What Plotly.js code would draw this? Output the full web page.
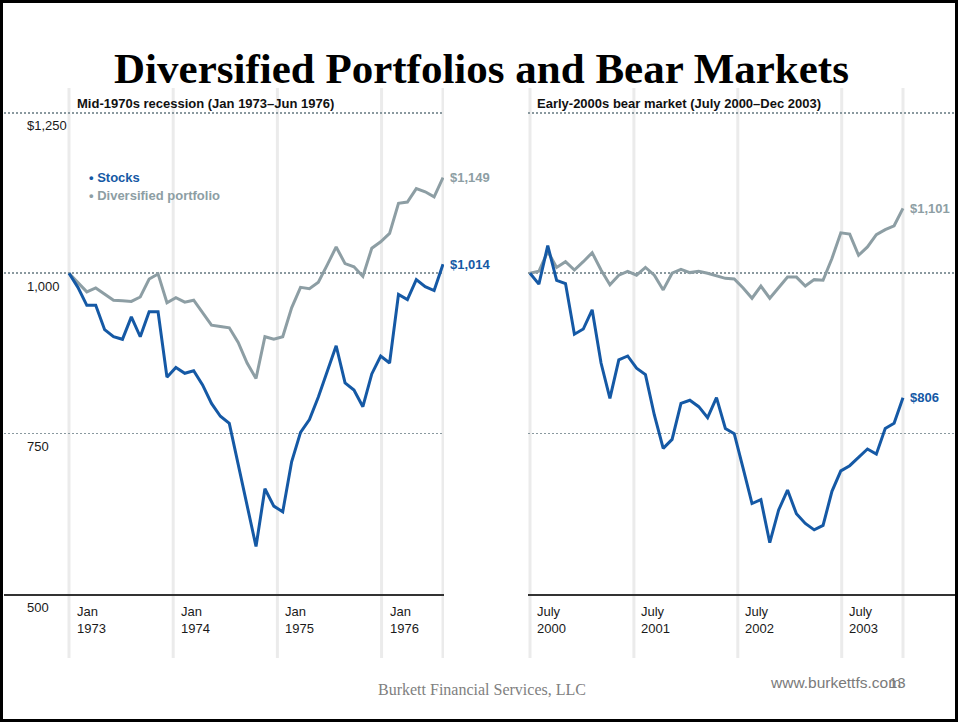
<!DOCTYPE html>
<html>
<head>
<meta charset="utf-8">
<script src="https://cdn.plot.ly/plotly-3.0.1.min.js"></script>
<style>
  html, body { margin: 0; padding: 0; background: #fff; }
  #chart { width: 958px; height: 722px; }
</style>
</head>
<body>
<div id="chart"></div>
<script>
// ---------- Data (monthly index, $1,000 starting value) ----------
const months = Array.from({length: 43}, (_, i) => i);

const stocks1970s = [1000, 978, 950, 950, 912, 901, 897, 932, 901, 940, 940, 838, 853, 844, 848,
  826, 797, 777, 766, 701, 638, 574, 664, 637, 628, 706, 752, 772, 807, 847, 887, 829, 818,
  792, 843, 871, 860, 967, 959, 990, 979, 973, 1014];
const diversified1970s = [1000, 985, 971, 977, 968, 958, 957, 956, 963, 991, 999, 954, 962, 955, 958,
  938, 919, 917, 915, 892, 860, 836, 901, 897, 901, 946, 978, 976, 986, 1013, 1041, 1015, 1010,
  995, 1039, 1049, 1062, 1109, 1111, 1132, 1127, 1119, 1149];

const stocks2000s = [1000, 983, 1043, 989, 984, 905, 913, 943, 860, 805, 865, 871, 852, 842, 779,
  727, 741, 797, 802, 792, 775, 806, 758, 750, 696, 641, 647, 580, 631, 662, 625, 610, 600,
  607, 660, 692, 700, 713, 726, 718, 758, 766, 806];
const diversified2000s = [1000, 1003, 1034, 1009, 1018, 1005, 1018, 1032, 1005, 982, 997, 1003, 997,
  1009, 997, 974, 1000, 1006, 1001, 1003, 1000, 996, 992, 991, 977, 961, 980, 961, 977, 994,
  994, 980, 990, 989, 1023, 1063, 1061, 1028, 1041, 1060, 1068, 1074, 1101];

const tickPositions = [0, 11.7, 23.4, 35.1];
const endPosition = 42;
const ticks1970s = ["Jan<br>1973", "Jan<br>1974", "Jan<br>1975", "Jan<br>1976"];
const ticks2000s = ["July<br>2000", "July<br>2001", "July<br>2002", "July<br>2003"];

const yTickVals = [1250, 1000, 750, 500];
const yTickText = ["$1,250", "1,000", "750", "500"];

const endLabels1970s = ["$1,149", "$1,014"];
const endLabels2000s = ["$1,101", "$806"];

const title = "Diversified Portfolios and Bear Markets";
const subtitle1970s = "Mid-1970s recession (Jan 1973\u2013Jun 1976)";
const subtitle2000s = "Early-2000s bear market (July 2000\u2013Dec 2003)";
const legendNames = ["Stocks", "Diversified portfolio"];

// ---------- Styling ----------
const W = 958, H = 722;
const BLUE = "#1559a5";
const GRAY = "#8d9ea4";
const SANS = "Liberation Sans, Arial, sans-serif";
const SERIF = "Liberation Serif, Times New Roman, serif";
const px = v => v / W;          // x pixel -> paper
const py = v => (H - v) / H;    // y pixel -> paper

const lineStyle = (c) => ({color: c, width: 3, shape: "linear"});

const traces = [
  {x: months, y: diversified1970s, xaxis: "x", yaxis: "y", mode: "lines", line: lineStyle(GRAY), name: legendNames[1], hoverinfo: "skip"},
  {x: months, y: stocks1970s, xaxis: "x", yaxis: "y", mode: "lines", line: lineStyle(BLUE), name: legendNames[0], hoverinfo: "skip"},
  {x: months, y: diversified2000s, xaxis: "x2", yaxis: "y2", mode: "lines", line: lineStyle(GRAY), name: legendNames[1], hoverinfo: "skip"},
  {x: months, y: stocks2000s, xaxis: "x2", yaxis: "y2", mode: "lines", line: lineStyle(BLUE), name: legendNames[0], hoverinfo: "skip"}
];

const yDomain = [py(594), py(109)];
const yAxisBase = {
  range: [500, 1256], domain: yDomain,
  tickvals: [750, 1000, 1250], showticklabels: false,
  showgrid: true, gridcolor: "#8a999f", gridwidth: 1.6, griddash: "2px,2px",
  zeroline: false, showline: false, fixedrange: true
};
const xAxisBase = {
  showgrid: false, zeroline: false, showticklabels: false, ticks: "",
  showline: true, linecolor: "#333333", linewidth: 1.5, fixedrange: true
};

const shapes = [];
[["x", tickPositions.concat([endPosition])], ["x2", tickPositions.concat([endPosition])]].forEach(([ax, pos]) => {
  pos.forEach(p => shapes.push({
    type: "line", xref: ax, yref: "paper", x0: p, x1: p, y0: py(658), y1: py(88),
    line: {color: "#ebebeb", width: 3}, layer: "below"
  }));
});
// outer frame
shapes.push({type: "rect", xref: "paper", yref: "paper", x0: 0, x1: 1, y0: 0, y1: 1,
  line: {color: "#000", width: 6}, fillcolor: "rgba(0,0,0,0)", layer: "above"});

const annotations = [];
// y tick labels
yTickVals.forEach((v, i) => annotations.push({
  xref: "paper", yref: "y", x: px(25), y: v, xanchor: "left", yanchor: "middle", yshift: -13,
  text: yTickText[i], showarrow: false, font: {family: SANS, size: 13, color: "#1a1a1a"}
}));
// x tick labels
tickPositions.forEach((p, i) => {
  annotations.push({xref: "x", yref: "paper", x: p, y: py(620), xanchor: "left", yanchor: "middle", xshift: 6,
    align: "left", text: ticks1970s[i], showarrow: false, font: {family: SANS, size: 13, color: "#1a1a1a"}});
  annotations.push({xref: "x2", yref: "paper", x: p, y: py(620), xanchor: "left", yanchor: "middle", xshift: 5,
    align: "left", text: ticks2000s[i], showarrow: false, font: {family: SANS, size: 13, color: "#1a1a1a"}});
});
// subtitles
annotations.push({xref: "paper", yref: "paper", x: px(75), y: py(104), xanchor: "left", yanchor: "middle",
  text: "<b>" + subtitle1970s + "</b>", showarrow: false, font: {family: SANS, size: 13, color: "#111"}});
annotations.push({xref: "paper", yref: "paper", x: px(535), y: py(104), xanchor: "left", yanchor: "middle",
  text: "<b>" + subtitle2000s + "</b>", showarrow: false, font: {family: SANS, size: 13, color: "#111"}});
// legend
annotations.push({xref: "paper", yref: "paper", x: px(87), y: py(178), xanchor: "left", yanchor: "middle",
  text: "<b>\u2022 " + legendNames[0] + "</b>", showarrow: false, font: {family: SANS, size: 13, color: BLUE}});
annotations.push({xref: "paper", yref: "paper", x: px(87), y: py(196), xanchor: "left", yanchor: "middle",
  text: "<b>\u2022 " + legendNames[1] + "</b>", showarrow: false, font: {family: SANS, size: 13, color: GRAY}});
// end labels
const last = endPosition;
annotations.push({xref: "x", yref: "y", x: last, y: diversified1970s[last], xanchor: "left", yanchor: "middle", xshift: 5,
  text: "<b>" + endLabels1970s[0] + "</b>", showarrow: false, font: {family: SANS, size: 13, color: GRAY}});
annotations.push({xref: "x", yref: "y", x: last, y: stocks1970s[last], xanchor: "left", yanchor: "middle", xshift: 5,
  text: "<b>" + endLabels1970s[1] + "</b>", showarrow: false, font: {family: SANS, size: 13, color: BLUE}});
annotations.push({xref: "x2", yref: "y2", x: last, y: diversified2000s[last], xanchor: "left", yanchor: "middle", xshift: 5,
  text: "<b>" + endLabels2000s[0] + "</b>", showarrow: false, font: {family: SANS, size: 13, color: GRAY}});
annotations.push({xref: "x2", yref: "y2", x: last, y: stocks2000s[last], xanchor: "left", yanchor: "middle", xshift: 5,
  text: "<b>" + endLabels2000s[1] + "</b>", showarrow: false, font: {family: SANS, size: 13, color: BLUE}});
// footer
annotations.push({xref: "paper", yref: "paper", x: px(481.5), y: py(689), xanchor: "center", yanchor: "middle",
  text: "Burkett Financial Services, LLC", showarrow: false, font: {family: SERIF, size: 16, color: "#808080"}});
annotations.push({xref: "paper", yref: "paper", x: px(768), y: py(682), xanchor: "left", yanchor: "middle",
  text: "www.burkettfs.com", showarrow: false, font: {family: SANS, size: 15.5, color: "#7a7a7a"}});
annotations.push({xref: "paper", yref: "paper", x: px(908), y: py(682), xanchor: "right", yanchor: "middle",
  text: "13", showarrow: false, font: {family: SANS, size: 15, color: "#7a7a7a"}});

const layout = {
  width: W, height: H,
  margin: {l: 0, r: 0, t: 0, b: 0, pad: 0},
  paper_bgcolor: "#ffffff", plot_bgcolor: "rgba(0,0,0,0)",
  showlegend: false,
  title: {text: "<b>" + title + "</b>", x: px(481.5), xanchor: "center", xref: "paper",
    y: py(68), yanchor: "middle", yref: "paper",
    font: {family: SERIF, size: 43, color: "#000"}},
  xaxis: Object.assign({}, xAxisBase, {domain: [px(4), px(444)], range: [-7.30, 42.11], anchor: "y"}),
  yaxis: Object.assign({}, yAxisBase, {anchor: "x"}),
  xaxis2: Object.assign({}, xAxisBase, {domain: [px(528), px(956)], range: [-0.225, 47.97], anchor: "y2"}),
  yaxis2: Object.assign({}, yAxisBase, {anchor: "x2"}),
  shapes: shapes,
  annotations: annotations
};

Plotly.newPlot("chart", traces, layout, {displayModeBar: false, staticPlot: true});
</script>
</body>
</html>
